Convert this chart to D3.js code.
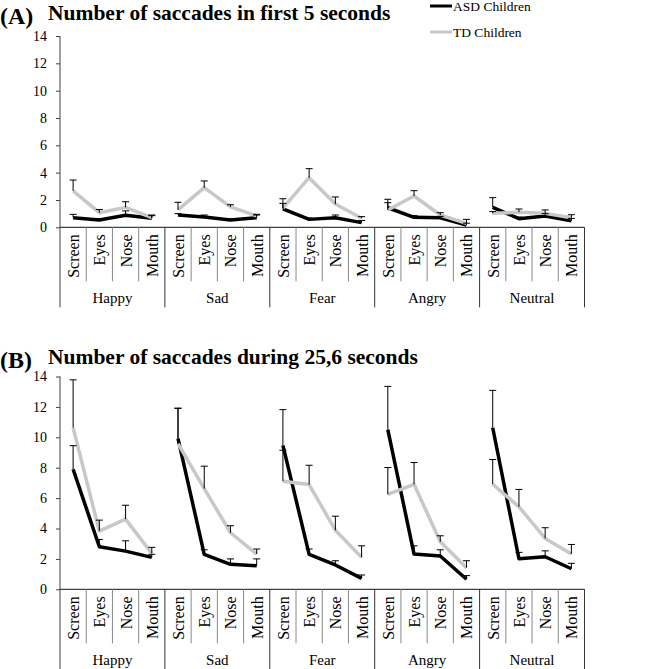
<!DOCTYPE html>
<html><head><meta charset="utf-8">
<script src="https://cdn.jsdelivr.net/npm/d3@7/dist/d3.min.js"></script>
<style>body{margin:0;background:#fff}svg{display:block}
svg text{font-family:"Liberation Serif","Tinos","Times New Roman","DejaVu Serif",serif !important;fill:#000}</style>
</head><body><svg id="c" width="645" height="669"></svg>
<script>
const emotions = ["Happy","Sad","Fear","Angry","Neutral"];
const regions = ["Screen","Eyes","Nose","Mouth"];
const yTicks = [0,2,4,6,8,10,12,14];
const seriesNames = ["ASD Children","TD Children"];

// Panel A: Number of saccades in first 5 seconds
const asdA    = [0.70,0.53,0.88,0.66, 0.90,0.75,0.53,0.70, 1.35,0.58,0.70,0.34, 1.43,0.73,0.70,0.17, 1.46,0.63,0.83,0.48];
const asdAErr = [0.25,0.09,0.32,0.24, 0.10,0.15,0.09,0.20, 0.40,0.10,0.20,0.16, 0.37,0.12,0.10,0.13, 0.71,0.12,0.17,0.17];
const tdA     = [2.66,1.07,1.46,0.70, 1.27,2.90,1.50,0.83, 1.40,3.63,1.70,0.66, 1.27,2.29,0.90,0.29, 1.02,1.10,1.02,0.70];
const tdAErr  = [0.80,0.23,0.41,0.15, 0.56,0.49,0.15,0.12, 0.69,0.66,0.52,0.12, 0.78,0.39,0.17,0.29, 0.13,0.24,0.25,0.22];

// Panel B: Number of saccades during 25,6 seconds
const asdB    = [7.90,2.80,2.51,2.10, 9.91,2.30,1.64,1.55, 9.47,2.30,1.60,0.72, 10.50,2.32,2.19,0.66, 10.63,2.01,2.14,1.35];
const asdBErr = [1.55,0.48,0.68,0.20, 1.99,0.30,0.36,0.45, 2.35,0.35,0.28,0.22, 2.85,0.54,0.41,0.24, 2.46,0.42,0.39,0.36];
const tdB     = [10.63,3.83,4.62,2.36, 9.58,6.63,3.72,2.32, 7.11,6.89,3.89,2.10, 6.24,6.91,3.13,1.42, 6.91,5.43,3.35,2.32];
const tdBErr  = [3.15,0.72,0.91,0.40, 2.34,1.47,0.46,0.33, 2.04,1.27,0.92,0.76, 1.77,1.43,0.39,0.46, 1.63,1.14,0.70,0.63];

const svg = d3.select("#c");
const FONT = '"Liberation Serif","Tinos","Times New Roman","DejaVu Serif",serif';
const cats = [];
emotions.forEach(e => regions.forEach(r => cats.push(e + "|" + r)));
const x = d3.scaleBand().domain(cats).range([60, 584.5]).paddingInner(0).paddingOuter(0);
const bw = x.bandwidth();
const colors = {asd:"#000000", td:"#c8c8c8"};

function txt(sel){ return sel.attr("font-family", FONT).style("font-family", FONT); }

function panel(opt){
  const y = d3.scaleLinear().domain([0,14]).range([opt.y0, opt.y14]);
  const g = svg.append("g");
  const ax = g.append("g").attr("transform","translate(60,0)")
    .call(d3.axisLeft(y).tickValues(yTicks).tickSize(4).tickPadding(9).tickFormat(d3.format("d")));
  ax.attr("font-family", FONT).attr("font-size", 14);
  ax.select(".domain").remove();
  ax.selectAll(".tick line").attr("stroke","#404040");
  txt(ax.selectAll(".tick text")).style("font-size","14px").attr("fill","#000");
  g.append("line").attr("x1",60).attr("x2",60).attr("y1",y(14)).attr("y2",opt.y0+80).attr("stroke","#404040");
  g.append("line").attr("x1",60).attr("x2",x.range()[1]).attr("y1",opt.y0).attr("y2",opt.y0).attr("stroke","#404040").attr("stroke-width",1.2);
  cats.forEach((c,i)=>{
    if(i===0) return;
    const xx = x(c);
    const major = i % 4 === 0;
    g.append("line").attr("x1",xx).attr("x2",xx).attr("y1",opt.y0).attr("y2",opt.y0 + (major?80:54))
      .attr("stroke", major?"#333":"#8a8a8a").attr("stroke-width",1);
  });
  g.append("line").attr("x1",x.range()[1]).attr("x2",x.range()[1]).attr("y1",opt.y0).attr("y2",opt.y0+80).attr("stroke","#333");
  cats.forEach((c,i)=>{
    const cx = x(c)+bw/2;
    txt(g.append("text")).attr("transform",`translate(${cx+0.5},${opt.y0+7}) rotate(-90)`)
      .attr("text-anchor","end").attr("dominant-baseline","central")
      .style("font-size","16px").text(regions[i%4]);
  });
  emotions.forEach((e,k)=>{
    const x0 = x(e+"|Screen"), x1 = x(e+"|Mouth")+bw;
    txt(g.append("text")).attr("x",(x0+x1)/2).attr("y",opt.y0+76).attr("text-anchor","middle")
      .style("font-size","15px").text(e);
  });
  const line = d3.line().x(d=>x(cats[d.i])+bw/2).y(d=>y(d.v));
  function drawSeries(vals, col){
    emotions.forEach((e,k)=>{
      const pts = d3.range(4).map(j=>({i:k*4+j, v:vals[k*4+j]}));
      g.append("path").attr("d",line(pts)).attr("fill","none").attr("stroke",col)
        .attr("stroke-width",3.5).attr("stroke-linejoin","round");
    });
  }
  function drawErr(vals, errs){
    vals.forEach((v,i)=>{
      const cx = x(cats[i])+bw/2;
      const top = y(v+errs[i]);
      g.append("line").attr("x1",cx).attr("x2",cx).attr("y1",y(v)).attr("y2",top).attr("stroke","#000").attr("stroke-width",1);
      g.append("line").attr("x1",cx-3.5).attr("x2",cx+3.5).attr("y1",top).attr("y2",top).attr("stroke","#000").attr("stroke-width",1);
    });
  }
  drawSeries(opt.asd, colors.asd);
  drawSeries(opt.td, colors.td);
  drawErr(opt.asd, opt.asdErr);
  drawErr(opt.td, opt.tdErr);
  txt(svg.append("text")).attr("x",0).attr("y",opt.labelY).style("font-size","24px").style("font-weight","bold").text(opt.label);
  txt(svg.append("text")).attr("x",48).attr("y",opt.titleY).style("font-size","21.5px").style("font-weight","bold").text(opt.title);
}

panel({y0:227.3, y14:36, asd:asdA, asdErr:asdAErr, td:tdA, tdErr:tdAErr,
  label:"(A)", labelY:24, title:"Number of saccades in first 5 seconds", titleY:20});
panel({y0:589.3, y14:376.5, asd:asdB, asdErr:asdBErr, td:tdB, tdErr:tdBErr,
  label:"(B)", labelY:368, title:"Number of saccades during 25,6 seconds", titleY:364});

const leg = svg.append("g");
[["asd",6,11],["td",32,37]].forEach(([k,ly,ty],i)=>{
  leg.append("line").attr("x1",430).attr("x2",452).attr("y1",ly).attr("y2",ly).attr("stroke",colors[k]).attr("stroke-width",3);
  txt(leg.append("text")).attr("x",453).attr("y",ty).style("font-size","13.5px").text(seriesNames[i]);
});
</script></body></html>
